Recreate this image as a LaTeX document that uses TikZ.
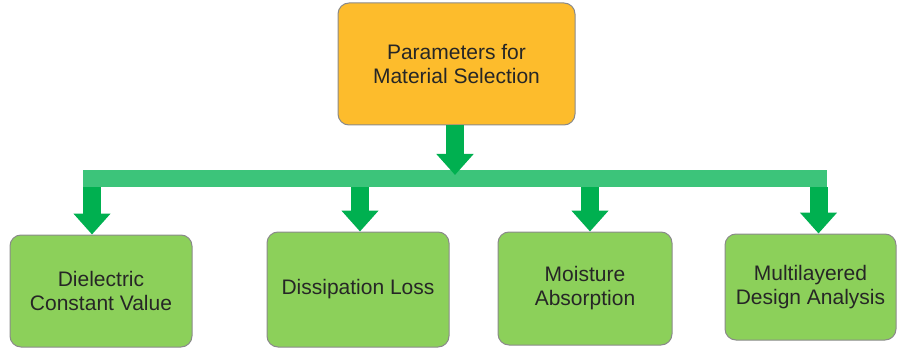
\documentclass[tikz,border=0pt]{standalone}
\usepackage{fontspec}
\setmainfont{Liberation Sans}
\usetikzlibrary{arrows.meta,calc}
\definecolor{orangefill}{HTML}{FDBC2C}
\definecolor{leaffill}{HTML}{8CD05A}
\definecolor{boxline}{HTML}{8A8A8A}
\definecolor{arrowgreen}{HTML}{00B050}
\definecolor{bargreen}{HTML}{3CC47A}
\definecolor{inktext}{HTML}{262626}
\tikzset{
  card/.style={draw=boxline, line width=1pt, rounded corners=11pt, inner sep=0pt,
    align=center, text=inktext, font=\fontsize{21}{24}\selectfont},
  rootcard/.style={card, fill=orangefill},
  leafcard/.style={card, fill=leaffill},
  blockarrow/.style={draw=arrowgreen, line width=18pt,
    -{Triangle[width=36pt,length=21pt]}, shorten >=0pt},
}
\begin{document}
\begin{tikzpicture}[x=1pt,y=-1pt]
  \useasboundingbox (0,0) rectangle (897,350);

  % parameter boxes
  \node[rootcard, minimum width=237pt, minimum height=122pt] (root) at (456.5,64)
    {Parameters for\\Material Selection};
  \node[leafcard, minimum width=182pt, minimum height=112pt] (b1) at (101,291)
    {Dielectric\\Constant Value};
  \node[leafcard, minimum width=182pt, minimum height=115pt] (b2) at (358,289.5)
    {Dissipation Loss};
  \node[leafcard, minimum width=174pt, minimum height=113pt] (b3) at (585,288.5)
    {Moisture\\Absorption};
  \node[leafcard, minimum width=171pt, minimum height=106pt] (b4) at (810.5,287)
    {Multilayered\\Design Analysis};

  % distribution bar
  \fill[bargreen] (83,170) rectangle (827,187);

  % branch points along the bar
  \coordinate (hub) at (455,175);
  \coordinate (j1) at (92,187);
  \coordinate (j2) at (360,187);
  \coordinate (j3) at (590,187);
  \coordinate (j4) at (818.5,187);

  % arrows
  \draw[blockarrow] (root.south -| hub) -- (hub);
  \draw[blockarrow] (j1) -- (j1 |- b1.north);
  \draw[blockarrow] (j2) -- (j2 |- b2.north);
  \draw[blockarrow] (j3) -- (j3 |- b3.north);
  \draw[blockarrow] (j4) -- (j4 |- b4.north);
\end{tikzpicture}
\end{document}
